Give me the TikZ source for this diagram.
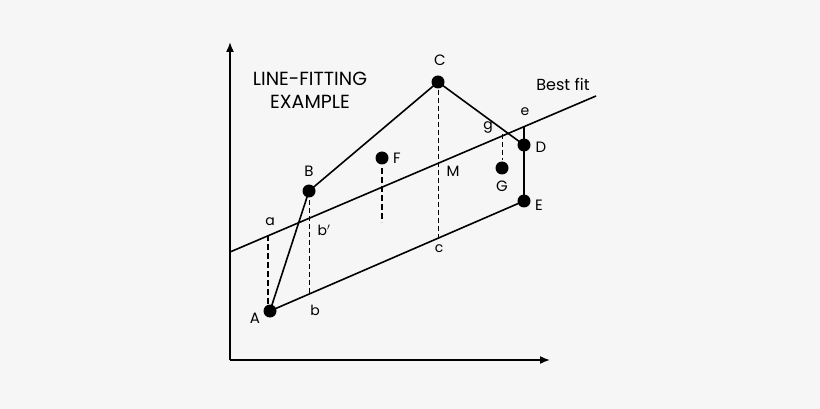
\documentclass[tikz,border=0pt]{standalone}
\usepackage{fontspec}
\setmainfont{Poppins}
\usetikzlibrary{arrows.meta}
\definecolor{bg}{RGB}{246,246,246}
\begin{document}
\begin{tikzpicture}[x=1pt,y=-1pt,
  ln/.style={line width=1.6pt},
  dsh/.style={dash pattern=on 5pt off 3pt,line width=1pt},
  tdsh/.style={dash pattern=on 6pt off 3pt,line width=2.2pt},
  dot/.style={circle,fill=black,inner sep=0pt,minimum size=13pt},
  lbl/.style={font=\fontsize{15}{16}\selectfont,inner sep=1pt},
  slbl/.style={font=\fontsize{14}{16}\selectfont,inner sep=1pt}]
\fill[bg] (0,0) rectangle (820,409);
\useasboundingbox (0,0) rectangle (820,409);
\coordinate (o) at (230,360);
\coordinate (yt) at (230,42);
\coordinate (xr) at (550,360);
\draw[line width=1.6pt,-{Latex[length=10pt,width=8pt]}] (o) -- (yt);
\draw[line width=1.6pt,-{Latex[length=10pt,width=8pt]}] (o) -- (xr);
\coordinate (bf1) at (230,252);
\coordinate (bf2) at (596,96);
\draw[ln] (bf1) -- (bf2);
\node[dot] (A) at (270,311) {};
\node[dot] (B) at (309,191) {};
\node[dot] (C) at (438,82) {};
\node[dot] (D) at (524,145) {};
\node[dot] (E) at (524,201) {};
\node[dot] (F) at (382,158) {};
\node[dot] (G) at (502,168) {};
\coordinate (ec) at (524,127);
\draw[ln] (A.center) -- (B.center) -- (C.center) -- (D.center) -- (E.center) -- (A.center);
\draw[ln] (E.center) -- (ec);
\coordinate (a1) at (268,235); \coordinate (a2) at (268,305);
\draw[tdsh] (a1) -- (a2);
\coordinate (b1) at (309,200); \coordinate (b2) at (309,296);
\draw[dsh] (b1) -- (b2);
\coordinate (f1) at (382,168); \coordinate (f2) at (382,222);
\draw[tdsh] (f1) -- (f2);
\coordinate (c2) at (438,240);
\draw[dsh] (C.center) -- (c2);
\coordinate (g1) at (502,134); \coordinate (g2) at (502,160);
\draw[dsh] (g1) -- (g2);
\node[font=\fontsize{19}{23}\selectfont,align=center] (title) at (310,90) {LINE-FITTING\\EXAMPLE};
\node[font=\fontsize{16}{17}\selectfont] (bft) at (563,84) {Best fit};
\node[lbl] (lA) at (255,318) {A};
\node[lbl] (lB) at (309,171) {B};
\node[lbl] (lC) at (440,60) {C};
\node[lbl] (lD) at (541,147) {D};
\node[lbl] (lE) at (539,205) {E};
\node[lbl] (lF) at (397,158) {F};
\node[lbl] (lG) at (502,186) {G};
\node[lbl] (lM) at (453,171) {M};
\node[slbl] (la) at (270,222) {a};
\node[slbl] (lb) at (315,310) {b};
\node[slbl] (lbp) at (324,230) {b$'$};
\node[slbl] (lc) at (439,249) {c};
\node[slbl] (lg) at (488,127) {g};
\node[slbl] (le) at (525,112) {e};
\end{tikzpicture}
\end{document}
